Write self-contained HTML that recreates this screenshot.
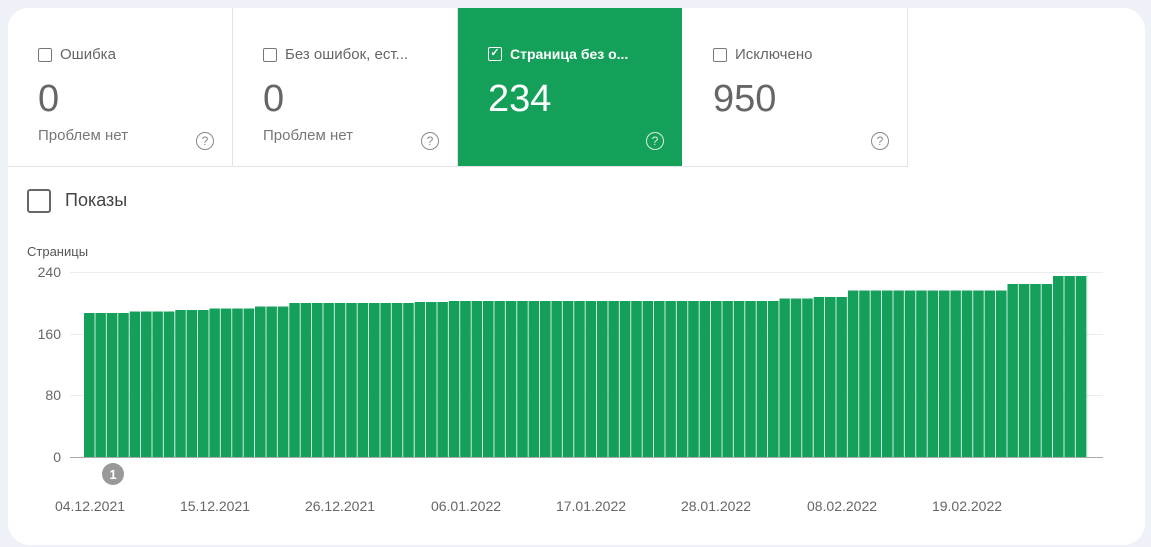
<!DOCTYPE html>
<html><head><meta charset="utf-8"><style>
body{margin:0;width:1151px;height:547px;background:#eef1f8;font-family:"Liberation Sans",sans-serif;overflow:hidden;position:relative}
.panel{position:absolute;left:8px;top:8px;width:1137px;height:537px;background:#fff;border-radius:22px}
.card{position:absolute;top:8px;width:224px;height:158px;border-right:1px solid #e3e3e3;border-bottom:1px solid #e3e3e3;background:#fff;color:#666}
.card .t{position:absolute;left:30px;top:38px;font-size:15px;display:flex;align-items:center}
.cb{width:14px;height:14px;border:1.5px solid #777;border-radius:2px;margin-right:8px;box-sizing:border-box}
.card .v{position:absolute;left:30px;top:70px;font-size:38px;color:#666}
.card .s{position:absolute;left:30px;top:119px;font-size:15px;color:#777}
.card .q{position:absolute;left:188px;top:124px;width:18px;height:18px;border:1.3px solid #888;border-radius:50%;box-sizing:border-box;font-size:12px;text-align:center;line-height:16px;color:#888}
.g{background:#15a05a;color:#fff}
.g .v,.g .t{color:#fff}
.g .cb{border-color:#fff}
.g .q{border-color:#d9f0e2;color:#d9f0e2}
</style></head><body>
<div class="panel"></div>
<div class="card" style="left:8px;border-top-left-radius:20px"><div class="t"><div class="cb"></div>Ошибка</div><div class="v">0</div><div class="s">Проблем нет</div><div class="q">?</div></div>
<div class="card" style="left:233px"><div class="t"><div class="cb"></div>Без ошибок, ест...</div><div class="v">0</div><div class="s">Проблем нет</div><div class="q">?</div></div>
<div class="card g" style="left:458px;border-right:none"><div class="t" style="font-weight:bold;font-size:14px"><div class="cb" style="font-size:11px;line-height:11px;text-align:center;font-weight:bold">✓</div>Страница без о...</div><div class="v">234</div><div class="q">?</div></div>
<div class="card" style="left:683px"><div class="t"><div class="cb"></div>Исключено</div><div class="v">950</div><div class="q">?</div></div>
<div style="position:absolute;left:27px;top:189px;width:24px;height:24px;border:2px solid #666;border-radius:3px;box-sizing:border-box"></div>
<div style="position:absolute;left:65px;top:190px;font-size:18px;color:#444">Показы</div>
<svg style="position:absolute;left:0;top:0" width="1151" height="547">
<defs><pattern id="p" patternUnits="userSpaceOnUse" x="84" y="0" width="11.4" height="547"><rect x="0" y="0" width="10.6" height="547" fill="#14a05a"/></pattern></defs>
<g font-family="Liberation Sans,sans-serif" fill="#666" font-size="14">
<text x="27" y="256" font-size="13" fill="#555">Страницы</text>
<text x="61" y="277" text-anchor="end">240</text>
<text x="61" y="339" text-anchor="end">160</text>
<text x="61" y="400" text-anchor="end">80</text>
<text x="61" y="462" text-anchor="end">0</text>
</g>
<g stroke="#ececec" stroke-width="1"><line x1="70" y1="272.5" x2="1103" y2="272.5"/><line x1="70" y1="334.5" x2="1103" y2="334.5"/><line x1="70" y1="395.5" x2="1103" y2="395.5"/></g>
<line x1="70" y1="457.5" x2="1103" y2="457.5" stroke="#aaa"/>
<g fill="url(#p)">
<rect x="84" y="313" width="45.6" height="144"/>
<rect x="129.6" y="311.5" width="45.6" height="145.5"/>
<rect x="175.2" y="310" width="34.2" height="147"/>
<rect x="209.4" y="308.5" width="45.6" height="148.5"/>
<rect x="255" y="306.5" width="34.2" height="150.5"/>
<rect x="289.2" y="303" width="125.4" height="154"/>
<rect x="414.6" y="302" width="34.2" height="155"/>
<rect x="448.8" y="301" width="330.6" height="156"/>
<rect x="779.4" y="298.5" width="34.2" height="158.5"/>
<rect x="813.6" y="297" width="34.2" height="160"/>
<rect x="847.8" y="290.5" width="159.6" height="166.5"/>
<rect x="1007.4" y="284" width="45.6" height="173"/>
<rect x="1053" y="276" width="34.2" height="181"/>
</g>
<circle cx="113" cy="474" r="11" fill="#999"/><text x="113" y="479" fill="#fff" font-size="13" font-weight="bold" text-anchor="middle" font-family="Liberation Sans,sans-serif">1</text>
<g font-family="Liberation Sans,sans-serif" fill="#666" font-size="14" text-anchor="middle">
<text x="90" y="511">04.12.2021</text><text x="215" y="511">15.12.2021</text><text x="340" y="511">26.12.2021</text><text x="466" y="511">06.01.2022</text><text x="591" y="511">17.01.2022</text><text x="716" y="511">28.01.2022</text><text x="842" y="511">08.02.2022</text><text x="967" y="511">19.02.2022</text>
</g>
</svg>
</body></html>
